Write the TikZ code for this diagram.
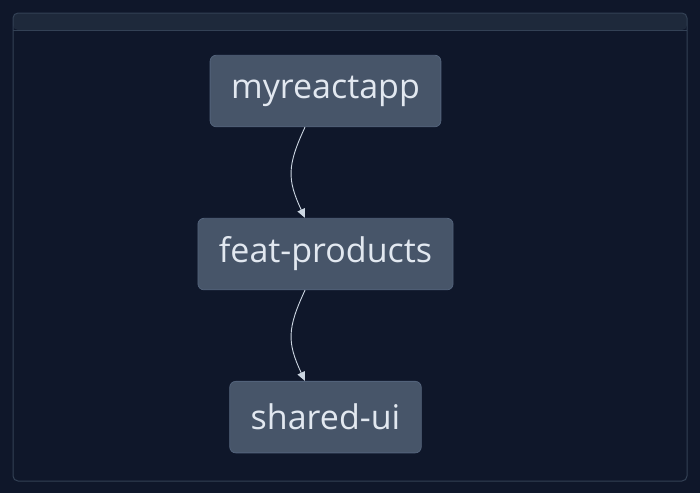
\documentclass[tikz,border=0pt]{standalone}
\usepackage{fontspec}
\setmainfont{Open Sans}
\usetikzlibrary{arrows.meta,positioning,backgrounds}
\definecolor{pagebg}{HTML}{0F172A}
\definecolor{headbg}{HTML}{1E293B}
\definecolor{framegray}{HTML}{334155}
\definecolor{pkgfill}{HTML}{475569}
\definecolor{pkgline}{HTML}{52627A}
\definecolor{pkgtext}{HTML}{E2E8F0}
\definecolor{edgegray}{HTML}{CBD5E1}

\begin{document}
\begin{tikzpicture}[
      x=1pt,y=1pt,
      pkg/.style={draw=pkgline,line width=0.8pt,rounded corners=6pt,fill=pkgfill,text=pkgtext,
        minimum height=71.5pt,inner xsep=21pt,font=\fontsize{34}{40}\selectfont},
      dep/.style={draw=edgegray,line width=0.9pt,-{Triangle[length=9pt,width=8pt]},out=245,in=115,looseness=1.2},
      node distance=90.75pt
    ]
    \fill[pagebg] (0,0) rectangle (700,-493);
    \useasboundingbox (0,0) rectangle (700,-493);
    % outer frame with header band
    \fill[headbg,rounded corners=5pt] (13,-30) -- (13,-13) -- (687,-13) -- (687,-30) -- cycle;
    \draw[framegray,line width=1pt,rounded corners=5pt] (13,-13) rectangle (687,-481);
    \draw[framegray,line width=1pt] (13,-30) -- (687,-30);

    \node[pkg] (app) at (325.5,-91) {myreactapp};
    \node[pkg,below=of app] (feat) {feat-products};
    \node[pkg,below=of feat] (ui) {shared-ui};

    \draw[dep] ([xshift=-20.5pt]app.south) to ([xshift=-20.5pt]feat.north);
    \draw[dep] ([xshift=-20.5pt]feat.south) to ([xshift=-20.5pt]ui.north);
  \end{tikzpicture}
\end{document}
